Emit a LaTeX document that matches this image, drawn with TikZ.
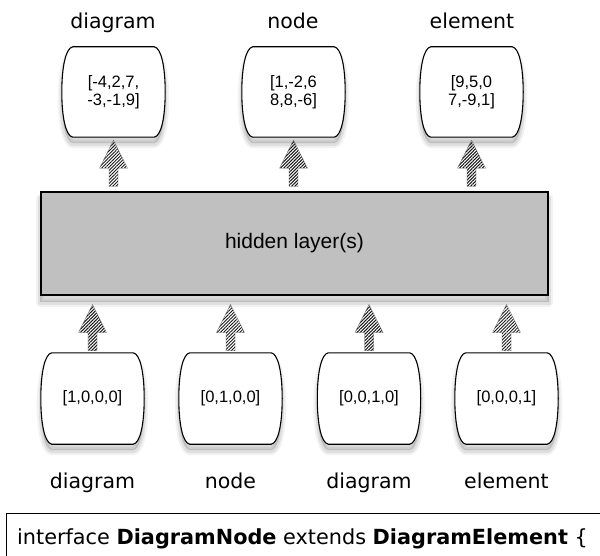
\documentclass[tikz,border=0pt]{standalone}
\usepackage{fontspec}
\setmainfont{Liberation Sans}
\newfontfamily\lucida{DejaVu Sans}
\usetikzlibrary{calc,patterns.meta}
\pgfdeclarelayer{background}
\pgfsetlayers{background,main}
\definecolor{hid}{RGB}{192,192,192}
\tikzset{
 vec/.style={minimum width=103pt,minimum height=90pt,inner sep=0pt,align=center,font=\fontsize{16.5}{18}\selectfont},
 blob/.style={draw=black,line width=1.1pt,fill=white},
 sh1/.style={transform canvas={yshift=-7pt},draw=black,draw opacity=0.05,line width=8pt,line join=round},
 sh2/.style={transform canvas={yshift=-7pt},draw=black,draw opacity=0.08,line width=4pt,line join=round},
 sh3/.style={transform canvas={yshift=-6pt},fill=black,fill opacity=0.15},
 hiddenbox/.style={draw=black,line width=1.1pt,fill=hid,minimum width=507pt,minimum height=103pt,inner sep=0pt,font=\fontsize{21}{24}\selectfont},
 lbl/.style={anchor=base,inner sep=0pt,font=\lucida\fontsize{20.5}{24}\selectfont},
 hatch/.style={pattern={Lines[angle=45,distance=2.3pt,line width=1pt]},pattern color=black!90,draw=black!55,line width=0.3pt}
}
\newcommand\blobgeom[2]{%
\path[#1] ([xshift=11pt]#2.north west) -- ([xshift=-11pt]#2.north east)
 .. controls ([xshift=-4pt,yshift=-1pt]#2.north east) and ([yshift=-20pt]#2.north east) .. (#2.east)
 .. controls ([yshift=20pt]#2.south east) and ([xshift=-4pt,yshift=1pt]#2.south east) .. ([xshift=-11pt]#2.south east)
 -- ([xshift=11pt]#2.south west)
 .. controls ([xshift=4pt,yshift=1pt]#2.south west) and ([yshift=20pt]#2.south west) .. (#2.west)
 .. controls ([yshift=-20pt]#2.north west) and ([xshift=4pt,yshift=-1pt]#2.north west) .. ([xshift=11pt]#2.north west) -- cycle;}
\newcommand\blobpath[1]{\blobgeom{sh1}{#1}\blobgeom{sh2}{#1}\blobgeom{sh3}{#1}\blobgeom{blob}{#1}}
\newcommand\hatcharrow[2]{%
\path[hatch] let \p1=#1, \p2=#2 in
 (\x1-4.5pt,\y1) -- (\x1-4.5pt,\y2-28pt) -- (\x1-14pt,\y2-28pt) -- (\x1,\y2)
 -- (\x1+14pt,\y2-28pt) -- (\x1+4.5pt,\y2-28pt) -- (\x1+4.5pt,\y1) -- cycle;}
\begin{document}
\begin{tikzpicture}[x=1pt,y=-1pt]
\useasboundingbox (0,0) rectangle (600,556);
% top output vectors
\node[vec] (t1) at (113.5,92) {[-4,2,7,\\-3,-1,9]};
\node[vec] (t2) at (293.5,92) {[1,-2,6\\8,8,-6]};
\node[vec] (t3) at (471.5,92) {[9,5,0\\7,-9,1]};
% bottom input vectors
\node[vec,minimum height=91pt] (b1) at (92.5,398.5) {[1,0,0,0]};
\node[vec,minimum height=91pt] (b2) at (230.5,398.5) {[0,1,0,0]};
\node[vec,minimum height=91pt] (b3) at (369,398.5) {[0,0,1,0]};
\node[vec,minimum height=91pt] (b4) at (506.5,398.5) {[0,0,0,1]};
% hidden layer
\node[hiddenbox] (h) at (294.5,243.5) {hidden layer(s)};
\begin{pgfonlayer}{background}
\fill[white] (0,0) rectangle (600,556);
\path[sh1] (h.north west) rectangle (h.south east);
\path[sh2] (h.north west) rectangle (h.south east);
\path[sh3] (h.north west) rectangle (h.south east);
\blobpath{t1}\blobpath{t2}\blobpath{t3}
\blobpath{b1}\blobpath{b2}\blobpath{b3}\blobpath{b4}
\end{pgfonlayer}
% labels
\node[lbl] (lt1) at (113,29) {diagram};
\node[lbl] (lt2) at (293,29) {node};
\node[lbl] (lt3) at (472,29) {element};
\node[lbl] (lb1) at (92.5,488) {diagram};
\node[lbl] (lb2) at (230.5,488) {node};
\node[lbl] (lb3) at (369,488) {diagram};
\node[lbl] (lb4) at (506.5,488) {element};
% arrows
\hatcharrow{($(h.north -| t1)+(0,-5)$)}{($(t1.south)+(0,3)$)}
\hatcharrow{($(h.north -| t2)+(0,-5)$)}{($(t2.south)+(0,3)$)}
\hatcharrow{($(h.north -| t3)+(0,-5)$)}{($(t3.south)+(0,3)$)}
\hatcharrow{($(b1.north)+(0,-2)$)}{($(h.south -| b1)+(0,9)$)}
\hatcharrow{($(b2.north)+(0,-2)$)}{($(h.south -| b2)+(0,9)$)}
\hatcharrow{($(b3.north)+(0,-2)$)}{($(h.south -| b3)+(0,9)$)}
\hatcharrow{($(b4.north)+(0,-2)$)}{($(h.south -| b4)+(0,9)$)}
% code line
\draw[line width=1pt] (610,513) -- (6,513) -- (6,570);
\node[anchor=base west,inner sep=0pt,font=\lucida\fontsize{20.8}{24}\selectfont] (code) at (17,544)
 {interface \textbf{DiagramNode} extends \textbf{DiagramElement} \{};
\end{tikzpicture}
\end{document}
